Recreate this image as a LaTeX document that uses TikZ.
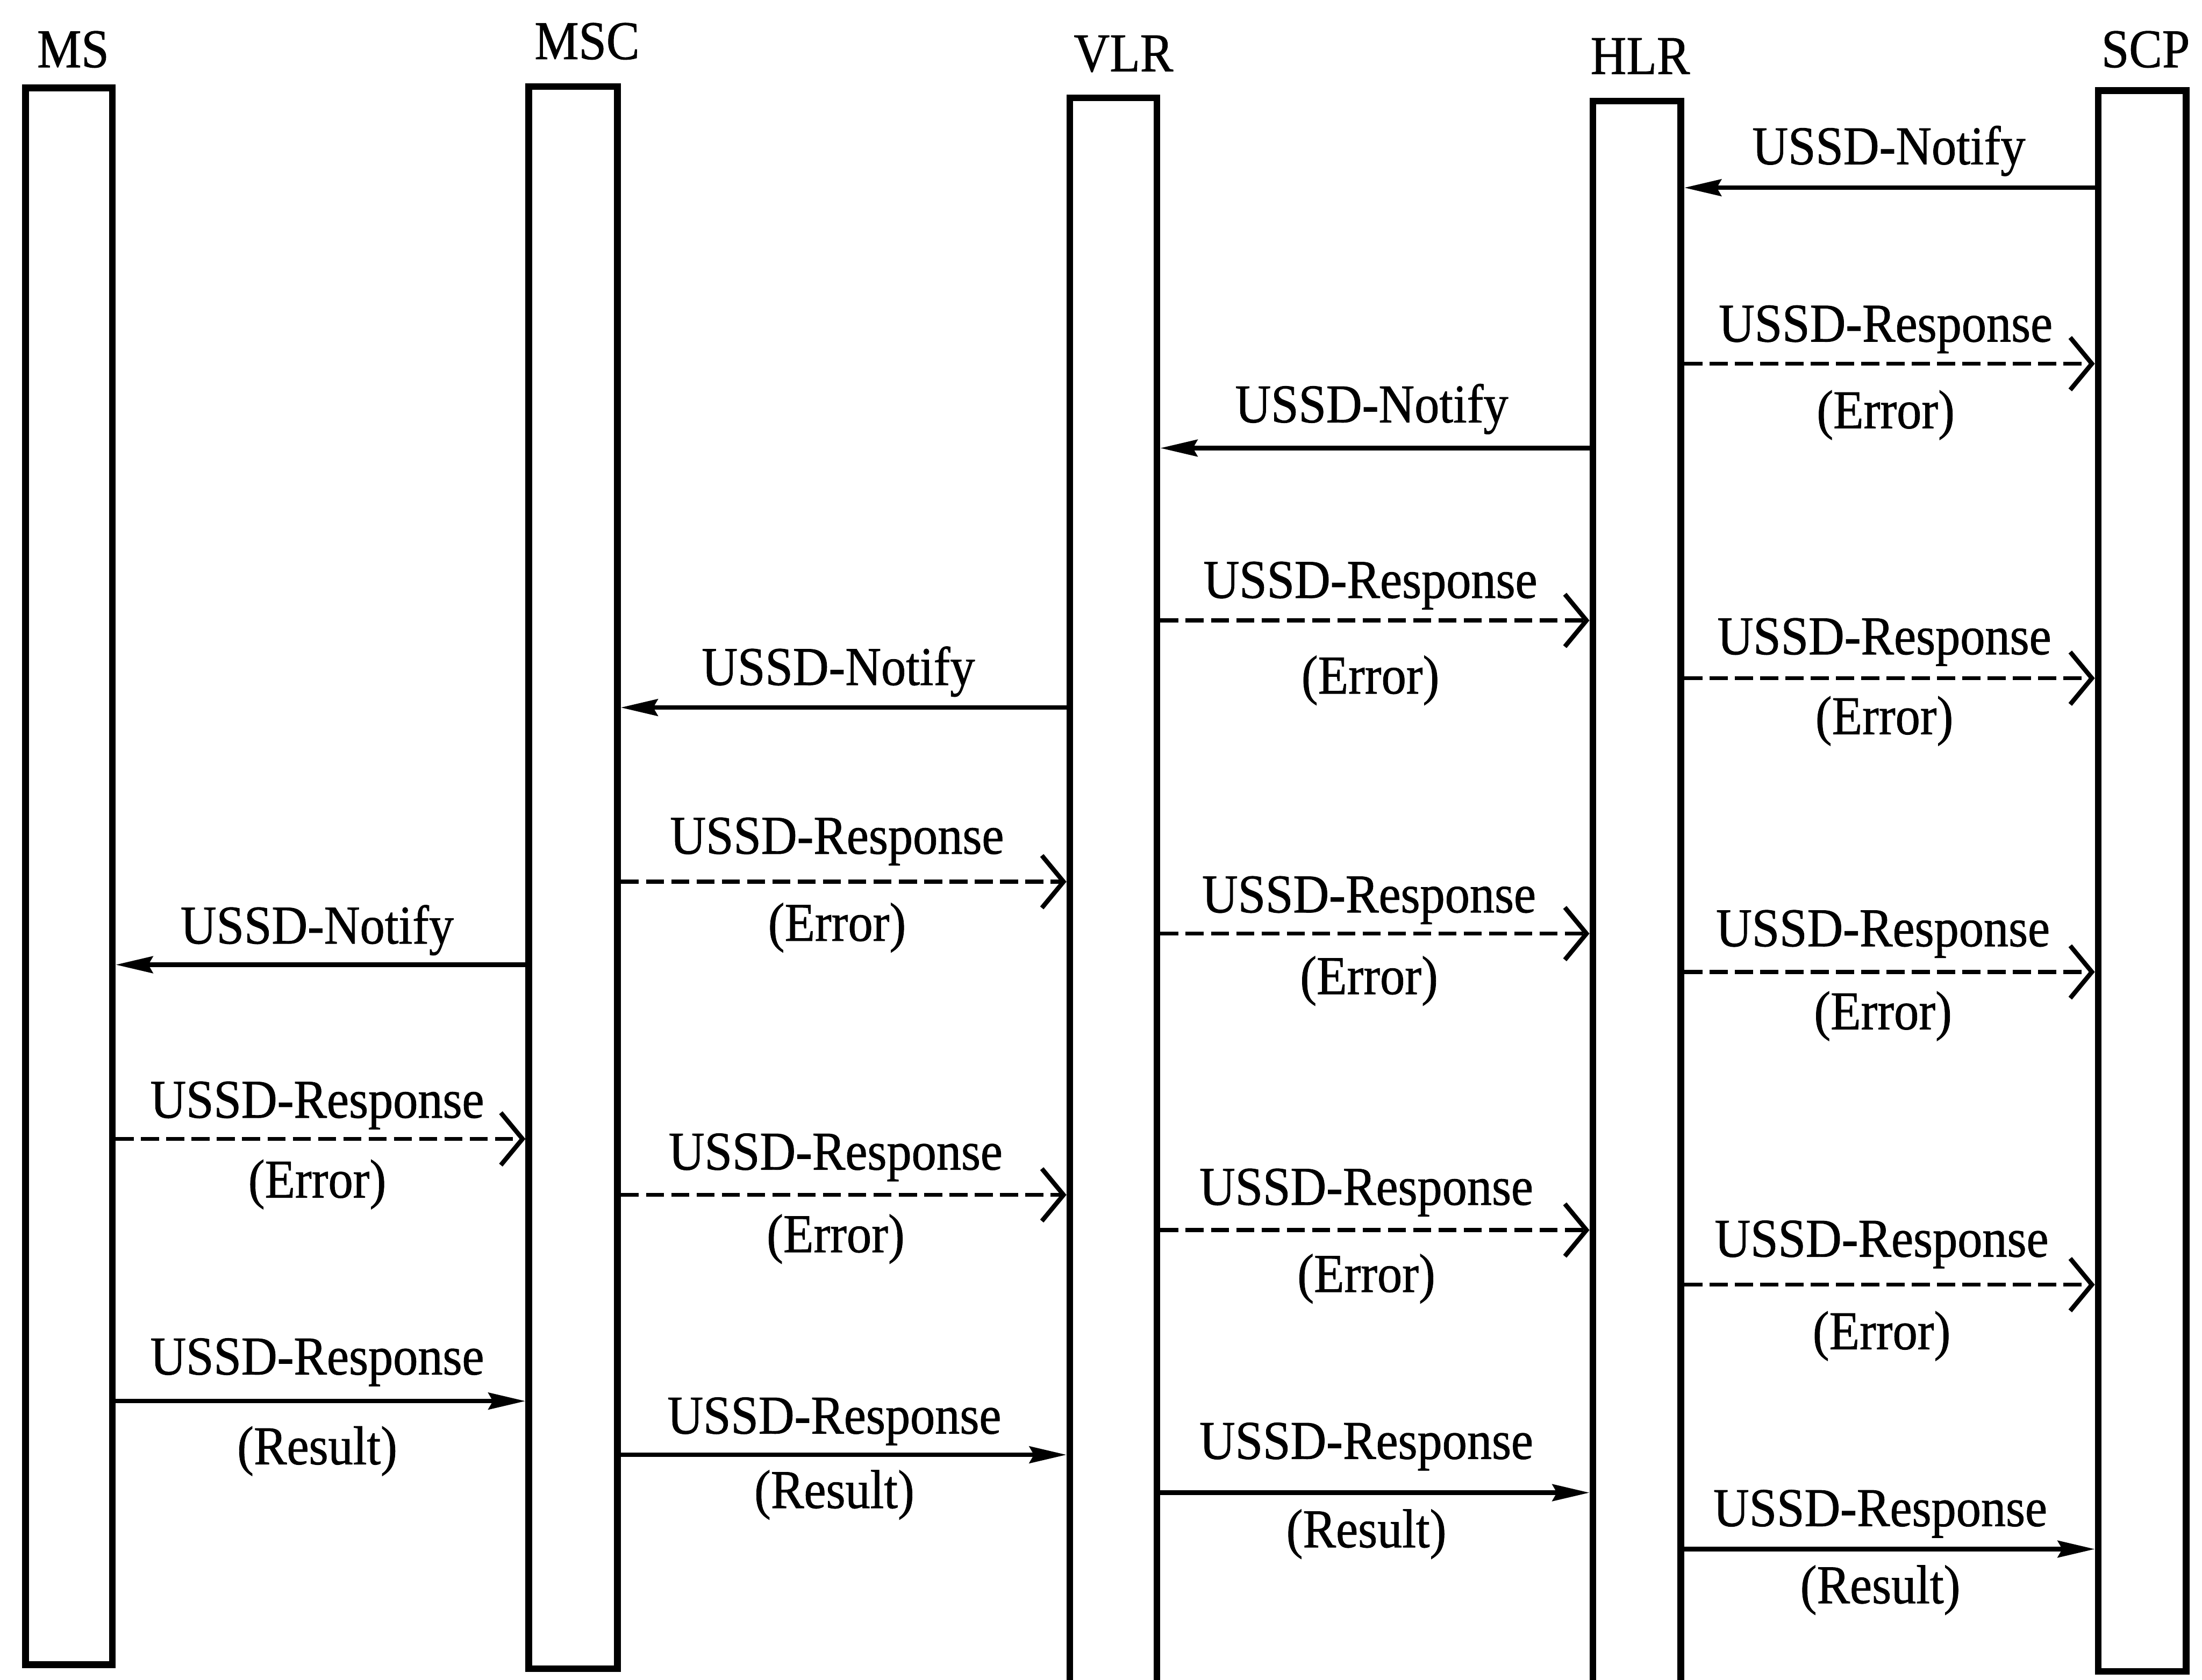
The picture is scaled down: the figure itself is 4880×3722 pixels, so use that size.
\documentclass[tikz,border=0pt]{standalone}
\usepackage{fontspec}
\setmainfont{Liberation Serif}
\newfontfamily\lblfont{Liberation Serif}[FakeBold=0.9]
\usepackage{graphicx}
\usetikzlibrary{arrows.meta}
\newcommand{\tallt}[1]{\scalebox{1}[1.1]{#1}}
\begin{document}
\begin{tikzpicture}[x=0.01cm,y=-0.01cm,
  lifebox/.style={draw, rectangle, line width=0.15cm, inner sep=0},
  lbl/.style={anchor=base, inner sep=0, font=\lblfont\fontsize{31.3}{36}\selectfont},
  solidmsg/.style={line width=0.1cm, -{Stealth[length=0.82cm, width=0.37cm, inset=0.1cm]}},
  dashmsg/.style={line width=0.09cm, dash pattern=on 0.40cm off 0.16cm, -{Straight Barb[length=0.48cm, width=1.16cm, line width=0.1cm]}}
]
\useasboundingbox (0,0) rectangle (4880,3722);
\clip (0,0) rectangle (4880,3722);
\fill[white] (0,0) rectangle (4880,3722);

% lifelines
\node[lifebox, minimum width=1.92cm, minimum height=34.92cm] (ms)  at (153,1942) {};
\node[lifebox, minimum width=1.96cm, minimum height=35.04cm] (msc) at (1270,1945) {};
\node[lifebox, minimum width=1.93cm, minimum height=35.82cm] (vlr) at (2467.5,2009) {};
\node[lifebox, minimum width=1.95cm, minimum height=35.75cm] (hlr) at (3627.5,2012.5) {};
\node[lifebox, minimum width=1.95cm, minimum height=35.01cm] (scp) at (4747.5,1952.5) {};

% entity names
\node[lbl] (nms)  at (162,149)  {\tallt{MS}};
\node[lbl] (nmsc) at (1301,131) {\tallt{MSC}};
\node[lbl] (nvlr) at (2490,158) {\tallt{VLR}};
\node[lbl] (nhlr) at (3635,164) {\tallt{HLR}};
\node[lbl] (nscp) at (4755,149) {\tallt{SCP}};

% 1 SCP -> HLR
\draw[solidmsg] (scp.west |- 0,416) -- (hlr.east |- 0,416);
\node[lbl] (l1a) at (4186,364) {\tallt{USSD-Notify}};
% 2 HLR -> SCP
\draw[dashmsg] (hlr.east |- 0,806) -- (scp.west |- 0,806);
\node[lbl] (l2a) at (4179,757) {\tallt{USSD-Response}};
\node[lbl] (l2b) at (4179,949) {\tallt{(Error)}};
% 3 HLR -> VLR
\draw[solidmsg] (hlr.west |- 0,993) -- (vlr.east |- 0,993);
\node[lbl] (l3a) at (3040,936) {\tallt{USSD-Notify}};
% 4 VLR -> HLR
\draw[dashmsg] (vlr.east |- 0,1375) -- (hlr.west |- 0,1375);
\node[lbl] (l4a) at (3037,1325) {\tallt{USSD-Response}};
\node[lbl] (l4b) at (3037,1537) {\tallt{(Error)}};
% 5 HLR -> SCP
\draw[dashmsg] (hlr.east |- 0,1503) -- (scp.west |- 0,1503);
\node[lbl] (l5a) at (4176,1450) {\tallt{USSD-Response}};
\node[lbl] (l5b) at (4176,1627) {\tallt{(Error)}};
% 6 VLR -> MSC
\draw[solidmsg] (vlr.west |- 0,1568) -- (msc.east |- 0,1568);
\node[lbl] (l6a) at (1858,1518) {\tallt{USSD-Notify}};
% 7 MSC -> VLR
\draw[dashmsg] (msc.east |- 0,1954) -- (vlr.west |- 0,1954);
\node[lbl] (l7a) at (1855,1892) {\tallt{USSD-Response}};
\node[lbl] (l7b) at (1855,2085) {\tallt{(Error)}};
% 8 VLR -> HLR
\draw[dashmsg] (vlr.east |- 0,2069) -- (hlr.west |- 0,2069);
\node[lbl] (l8a) at (3034,2022) {\tallt{USSD-Response}};
\node[lbl] (l8b) at (3034,2203) {\tallt{(Error)}};
% 9 HLR -> SCP
\draw[dashmsg] (hlr.east |- 0,2154) -- (scp.west |- 0,2154);
\node[lbl] (l9a) at (4173,2097) {\tallt{USSD-Response}};
\node[lbl] (l9b) at (4173,2281) {\tallt{(Error)}};
% 10 MSC -> MS
\draw[solidmsg] (msc.west |- 0,2138) -- (ms.east |- 0,2138);
\node[lbl] (l10a) at (703,2091) {\tallt{USSD-Notify}};
% 11 MS -> MSC
\draw[dashmsg] (ms.east |- 0,2524) -- (msc.west |- 0,2524);
\node[lbl] (l11a) at (703,2477) {\tallt{USSD-Response}};
\node[lbl] (l11b) at (703,2654) {\tallt{(Error)}};
% 12 MSC -> VLR
\draw[dashmsg] (msc.east |- 0,2648) -- (vlr.west |- 0,2648);
\node[lbl] (l12a) at (1852,2592) {\tallt{USSD-Response}};
\node[lbl] (l12b) at (1852,2775) {\tallt{(Error)}};
% 13 VLR -> HLR
\draw[dashmsg] (vlr.east |- 0,2726) -- (hlr.west |- 0,2726);
\node[lbl] (l13a) at (3028,2670) {\tallt{USSD-Response}};
\node[lbl] (l13b) at (3028,2863) {\tallt{(Error)}};
% 14 HLR -> SCP
\draw[dashmsg] (hlr.east |- 0,2847) -- (scp.west |- 0,2847);
\node[lbl] (l14a) at (4170,2785) {\tallt{USSD-Response}};
\node[lbl] (l14b) at (4170,2990) {\tallt{(Error)}};
% 15 MS -> MSC
\draw[solidmsg] (ms.east |- 0,3105) -- (msc.west |- 0,3105);
\node[lbl] (l15a) at (703,3046) {\tallt{USSD-Response}};
\node[lbl] (l15b) at (703,3245) {\tallt{(Result)}};
% 16 MSC -> VLR
\draw[solidmsg] (msc.east |- 0,3224) -- (vlr.west |- 0,3224);
\node[lbl] (l16a) at (1849,3177) {\tallt{USSD-Response}};
\node[lbl] (l16b) at (1849,3342) {\tallt{(Result)}};
% 17 VLR -> HLR
\draw[solidmsg] (vlr.east |- 0,3308) -- (hlr.west |- 0,3308);
\node[lbl] (l17a) at (3028,3233) {\tallt{USSD-Response}};
\node[lbl] (l17b) at (3028,3429) {\tallt{(Result)}};
% 18 HLR -> SCP
\draw[solidmsg] (hlr.east |- 0,3433) -- (scp.west |- 0,3433);
\node[lbl] (l18a) at (4167,3382) {\tallt{USSD-Response}};
\node[lbl] (l18b) at (4167,3553) {\tallt{(Result)}};
\end{tikzpicture}
\end{document}
